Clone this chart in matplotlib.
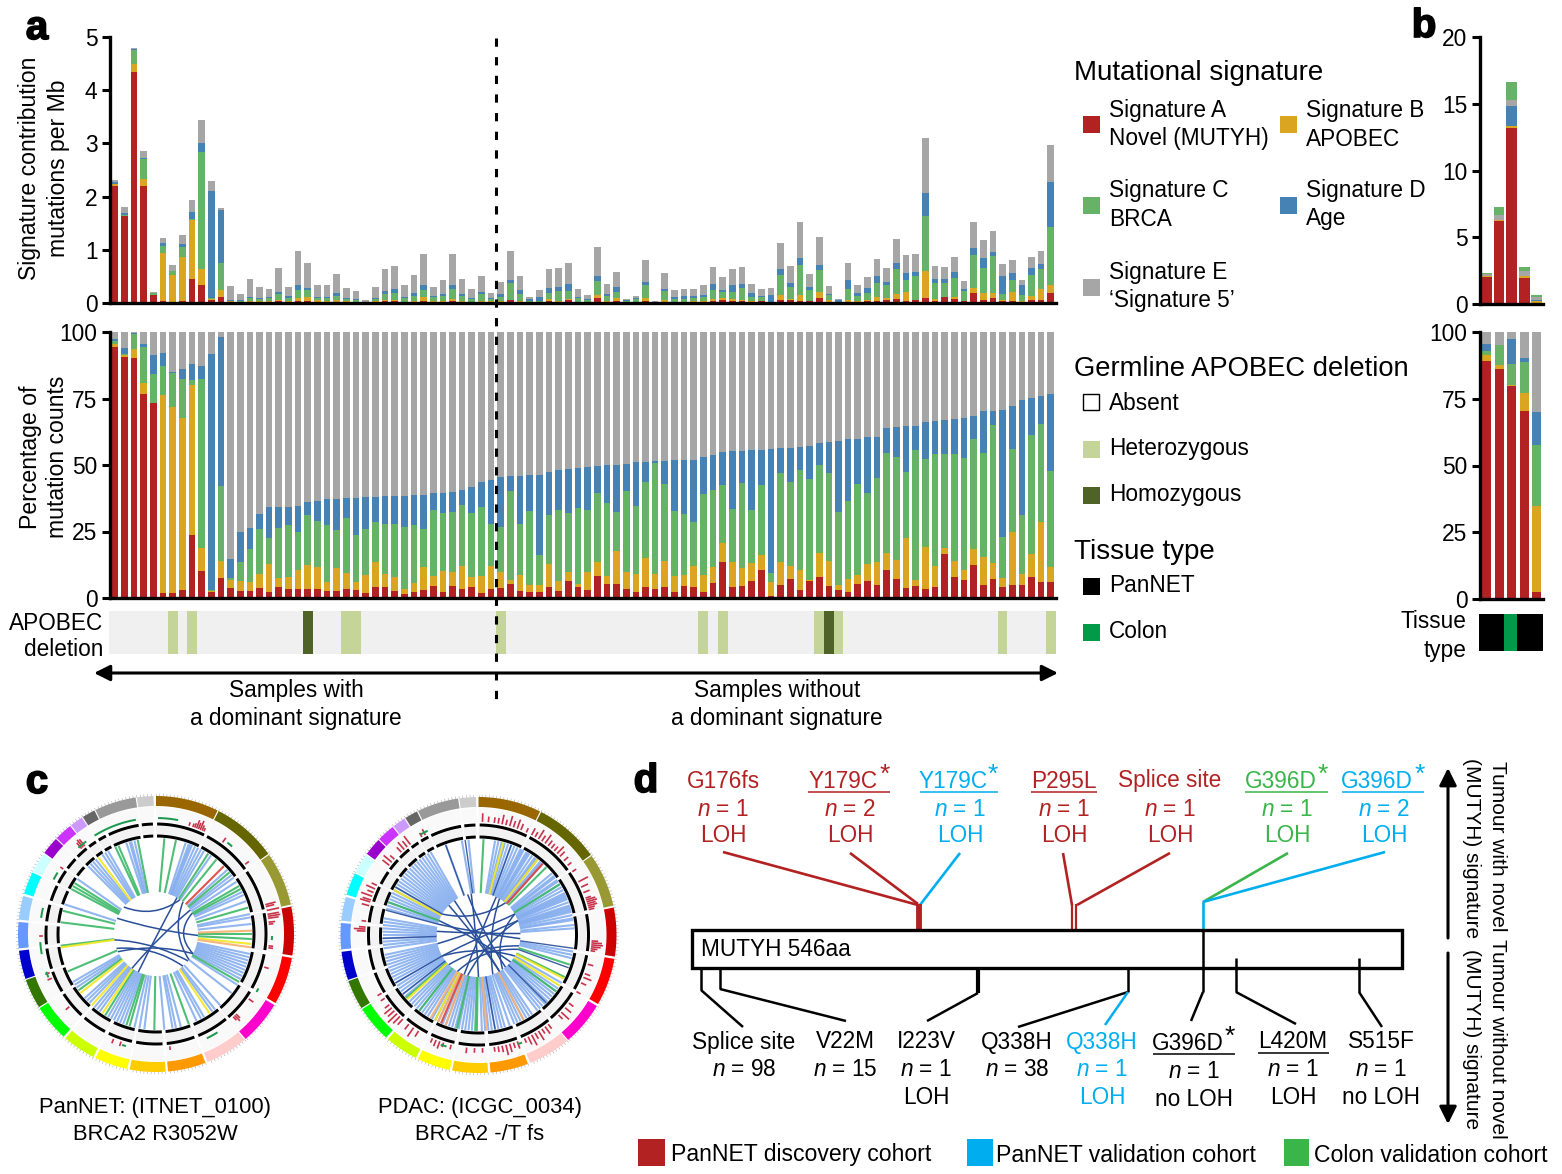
import matplotlib
matplotlib.use("Agg")
import matplotlib.pyplot as plt
import matplotlib.patheffects as pe
import numpy as np
from matplotlib.patches import Rectangle, Polygon, PathPatch
from matplotlib.path import Path

plt.rcParams['font.family'] = ['Liberation Sans', 'DejaVu Sans']
plt.rcParams['mathtext.fontset'] = 'custom'
plt.rcParams['mathtext.rm'] = 'Liberation Sans'
plt.rcParams['mathtext.it'] = 'Liberation Sans:italic'

W, H = 1562, 1174

RED = '#b22222'
ORANGE = '#daa520'
GREEN = '#66b266'
BLUE = '#4682b4'
GREY = '#a6a6a6'

# panel a, top: mutations per Mb for signatures A-E
sig_a = [2.19,1.63,4.34,2.20,.145,.03,.01,.03,.46,.345,
         .05,.12,.02,.01,.02,.01,.01,.03,.02,.03,
         .03,.02,.01,.02,.01,.01,.005,.01,.03,.03,
         .01,.02,.03,.01,.01,.04,.02,.01,.01,.01,
         .01,.05,.01,.01,.01,.03,.02,.05,.01,.01,
         .09,.02,.03,.005,.01,.03,.005,.02,.01,.01,
         .01,.01,.03,.06,.03,.03,.02,.03,.005,.05,
         .05,.04,.03,.10,.01,.005,.02,.02,.03,.03,
         .06,.08,.03,.05,.10,.03,.11,.07,.03,.18,
         .05,.09,.03,.03,.01,.06,.05,.18]
sig_b = [.04,.01,.155,.125,.01,.91,.51,.84,1.10,.30,
         .025,.13,.01,.01,.02,.02,.03,.02,.02,.07,
         .08,.03,.02,.04,.02,.01,.005,.03,.02,.02,
         .01,.01,.08,.02,.03,.03,.02,.01,.03,.02,
         .03,.01,.03,.0,.01,.05,.02,.02,.0,.01,
         .055,.01,.07,.005,.01,.06,.005,.04,.01,.01,
         .02,.02,.04,.04,.05,.03,.02,.0,.005,.10,
         .03,.11,.0,.11,.04,.005,.03,.01,.03,.08,
         .04,.09,.18,.01,.50,.05,.01,.05,.01,.10,
         .13,.09,.02,.17,.02,.08,.22,.16]
sig_c = [.01,.01,.26,.38,.03,.14,.09,.19,.025,2.2,
         .01,.50,.005,.01,.05,.05,.05,.12,.06,.14,
         .13,.05,.06,.07,.05,.04,.01,.03,.12,.14,
         .07,.11,.13,.08,.10,.20,.10,.05,.12,.04,
         .07,.32,.12,.03,.02,.11,.18,.16,.08,.04,
         .27,.10,.10,.03,.05,.24,.01,.17,.06,.06,
         .06,.09,.18,.10,.13,.22,.07,.08,.005,.38,
         .22,.57,.22,.41,.10,.01,.21,.11,.13,.27,
         .24,.47,.22,.45,1.03,.30,.25,.35,.19,.63,
         .47,.70,.11,.24,.12,.39,.37,1.09]
sig_d = [.03,.04,.02,.025,.01,.055,.0,.055,.12,.16,
         2.02,1.0,.02,.02,.03,.01,.02,.04,.03,.09,
         .04,.02,.02,.05,.02,.02,.0,.03,.06,.07,
         .03,.04,.10,.02,.03,.06,.02,.03,.04,.02,
         .06,.05,.09,.03,.07,.10,.09,.12,.02,.02,
         .10,.04,.10,.01,.02,.06,.0,.04,.04,.05,
         .04,.03,.10,.05,.13,.08,.08,.02,.135,.10,
         .08,.13,.06,.09,.02,.03,.17,.05,.10,.12,
         .06,.12,.14,.08,.44,.08,.08,.12,.04,.13,
         .19,.07,.35,.12,.18,.12,.10,.85]
sig_e = [.05,.11,.02,.13,.02,.095,.11,.17,.24,.43,
         .19,.03,.27,.12,.34,.21,.16,.45,.17,.65,
         .48,.22,.23,.36,.18,.14,.04,.20,.41,.44,
         .21,.34,.58,.18,.26,.59,.30,.16,.30,.10,
         .23,.55,.25,.05,.13,.35,.34,.41,.16,.07,
         .54,.19,.29,.03,.05,.42,.02,.29,.13,.14,
         .14,.18,.33,.23,.29,.31,.16,.13,.14,.49,
         .31,.67,.24,.53,.15,.03,.32,.14,.19,.32,
         .25,.44,.34,.34,1.04,.24,.22,.28,.15,.48,
         .35,.41,.23,.25,.11,.22,.24,.69]

# panel a, bottom: cumulative percentages (top of each stacked segment)
pct_a = [94.2,90.7,90.4,76.7,73.2,2,1.8,2.9,23.7,10.2,2.3,7.4,3.6,2.6,2.6,3.8,2.3,4,3.3,3.3,
         3.5,3.3,2.6,2.6,3.3,2.9,1.8,4,4,2.6,1.4,2.4,2.9,4.6,2.3,4.6,3.3,4,1.8,3.3,
         3.6,5.1,2.6,2.3,2.1,4.3,2.5,6.3,4.3,2.9,8.1,5.1,5.3,3.3,2.1,4,3.3,4,2.1,4.4,
         4,2.1,5.5,13.4,4,4.5,6.3,10.4,.6,5,7,2.9,6.4,7.8,4.4,2.9,2.1,5.3,6.5,4.9,
         10.4,7,3.8,4.5,3.3,4,16.4,8,6.9,12.3,4.8,7,4,5,5,7.8,5.9,5.9]
pct_b = [95.6,91.5,93.7,81,73.2,76.2,71.9,67.5,80.2,18.9,2.6,14,6.6,6.5,6,8.9,12.7,7.4,8,10.5,
         12.5,11.5,5.9,11.3,9.3,6.1,8.5,13.5,8.9,7.8,3.5,5.8,11.7,8.3,10.3,9.6,11.9,7.8,8.4,11.9,
         9.8,6.9,8.5,4.8,5,12.7,6.3,9.8,5.1,9.8,13.5,8.1,17.8,9.6,8.9,14.9,8.9,13.8,8.3,8.8,
         12,8.8,11.5,20.8,13.4,11.3,13.2,16.3,5.9,13.4,11.9,10.4,6.9,17,14,5,7.3,8.5,12.8,13.5,
         16.8,14.2,22.4,6.6,19.3,12.2,18.8,13.8,10.5,18.5,15.3,13.2,7.4,24.8,9.1,16.7,28.6,11.5]
pct_c = [96.5,91.7,99.1,94.5,84.2,87.2,84.5,82.2,81.8,82.5,3.1,42.2,7.6,13.5,18.5,26.1,22.6,26.2,27.6,24.9,
         31.3,29.1,27.6,25.7,29.9,23.8,26.1,28.7,27.9,27.9,26.8,27.6,26.1,33.1,32.1,32.5,34.8,31.8,34.3,27.8,
         26.8,40.1,27.9,32.8,16,31.3,33.2,31.8,33.8,33,39.5,35.6,32.2,40.1,34.7,43.5,50.9,43,32.8,31.7,
         28.7,39,40.5,42.4,33.3,43.1,33.2,42.6,9.3,47.1,43.5,48,44.9,50.1,46.9,32.5,36.6,42.7,39.3,45.2,
         54.6,53.1,47.5,55.8,52.4,54.3,54.1,54.3,52.6,59.6,54.6,64.9,23.1,55.9,31.3,61.2,65.5,47.9]
pct_d = [97.5,94.1,99.7,95.5,91.5,92.2,84.8,86.2,88.1,87.1,91.9,98,14.8,24.7,26.2,31.7,34.1,34.1,34.1,34.5,
         36,36.3,37.1,37.1,37.5,37.5,37.8,37.8,38.2,38.2,38.2,38.6,38.6,39.3,39.3,39.7,40.5,41.9,43.6,44.2,
         45.4,45.7,45.7,46.1,46.1,47.2,48,48.4,48.7,49.1,49.5,49.9,49.9,50.3,51,51,51.4,51.5,51.9,51.9,
         51.9,52.9,53.9,54.8,55.1,55.1,55.5,55.5,55.9,56.3,56.3,56.9,57.1,58.1,58.5,59,59.6,59.8,60.4,60.5,
         64,64.4,64.5,64.5,66.3,66.4,67,67.4,67.5,68.3,70.2,70.2,70.6,72.1,74.6,75.1,76.1,76.6]

het_samples = [6, 8, 24, 25, 40, 61, 63, 73, 75, 92, 97]
hom_samples = [20, 74]

# panel b
b_a = [2.05, 6.25, 13.2, 1.93, .03]
b_b = [.02, .03, .10, .16, .20]
b_d = [.05, 0, 1.55, .02, .10]
b_e = [.10, .40, .44, .35, .19]
b_c = [.08, .57, 1.36, .32, .13]
bp_a = [89.1, 86.3, 79.7, 70.5, 2.7]
bp_b = [91.3, 87.7, 80.1, 77.1, 34.9]
bp_c = [92.7, 95.3, 87.9, 88.8, 57.7]
bp_d = [95.6, 95.3, 97.3, 90.4, 70.2]
tissue = ['PanNET', 'PanNET', 'Colon', 'PanNET', 'PanNET']

# panel c: chromosome sectors, clockwise degrees from top
chrom_start = [0, 27, 55, 78.5, 100, 121, 140, 159, 176, 192, 207, 222, 238, 251, 264, 276, 287, 297, 306, 314, 322, 328, 334, 352]
chrom_end = [26.5, 54.5, 77.7, 99, 120, 139.5, 158, 175, 191, 206, 221, 237.5, 250.5, 263, 275, 286, 296.5, 305.5, 313.5, 321.5, 327.5, 333.5, 351.5, 359]
chrom_col = ['#996600', '#666600', '#999933', '#cc0000', '#ff0000', '#ff00cc', '#ffcccc', '#ff9900',
             '#ffcc00', '#ffff00', '#ccff00', '#00ff00', '#337700', '#0000cc', '#6699ff', '#99ccff',
             '#00ffff', '#ccffff', '#9900cc', '#cc33ff', '#cc99ff', '#666666', '#999999', '#cccccc']

c1_blue = [345, 347, 18, 20, 22, 21, 24, 26, 28, 30, 35, 48, 52, 54, 57, 64, 66, 70, 78, 80, 84, 102, 104, 106, 108,
           110, 112, 114, 116, 118, 122, 128, 138, 142, 144, 150, 152, 155, 165, 168, 170, 175, 187, 190, 193, 200,
           202, 204, 206, 208, 210, 216, 218, 220, 224, 226, 228, 236, 238, 240, 288, 305, 315, 317, 319, 321, 326, 328, 330, 342, 344]
c1_green = [349, 5, 12, 33, 39, 50, 60, 62, 74, 90, 93, 120, 160, 181, 196, 198, 212, 234, 247, 263, 277, 284, 298, 300, 302, 335, 337]
c1_yellow = [146, 214, 222, 232, 96, 262, 323]
c1_orange = [88, 98]
c1_red = [45]
c1_curves = [(310, 35), (292, 92), (250, 140), (245, 118), (205, 30), (215, 55), (130, 262), (60, 118), (128, 40)]
c1_bump_ang = [17, 19, 20, 21, 22, 23, 24, 25, 36, 52, 75, 76, 78, 80, 81, 82, 84, 85, 96, 97, 107, 125, 135, 136, 137, 173, 198, 202, 230, 247, 250, 269, 305, 319, 320, 321]
c1_bump_h = [2, 2, 3, 7, 5, 8, 4, 2, 4, 3, 9, 7, 11, 10, 11, 9, 5, 3, 3, 3, 3, 4, 4, 6, 3, 2, 3, 3, 3, 3, 3, 2, 2, 6, 8, 7]
c1_green_arcs = [(1, 11), (328, 350), (318, 323), (298, 302), (278, 283), (260, 266), (248, 251), (148, 154), (195, 197), (118, 120), (91, 93), (38, 41)]

c2_blue = [10, 12, 14, 16, 18, 20, 22, 24, 26, 27, 28, 30, 31, 32, 34, 36, 37, 38, 40, 41, 42, 50, 52, 53, 55, 56, 58, 60, 62,
           64, 65, 66, 67, 68, 70, 72, 73, 74, 75, 76, 78, 80, 81, 84, 86, 100, 102, 104, 120, 124, 126, 128, 130, 132,
           134, 136, 138, 140, 142, 146, 148, 150, 152, 154, 156, 158, 161, 164, 166, 168, 170, 172, 174, 176, 178,
           184, 186, 188, 190, 192, 194, 196, 198, 200, 202, 205, 207, 209, 212, 214, 216, 218, 220, 222, 224, 226,
           230, 232, 234, 236, 238, 240, 242, 244, 246, 248, 250, 252, 254, 256, 258, 262, 264, 266, 268, 270, 272, 274,
           276, 278, 280, 286, 288, 290, 292, 294, 296, 298, 300, 302, 304, 306, 308, 310, 312, 314, 316, 318, 320, 322,
           324, 326, 328, 330, 340, 350, 354]
c2_green = [3, 45, 58, 108, 116, 126, 181, 182, 193, 218, 229, 290]
c2_yellow = [15, 38, 117, 122, 207, 298, 228]
c2_orange = [175, 152, 200, 210, 205]
c2_red = [42, 203]
c2_dark = [98, 110, 135, 170, 232, 240, 268, 285, 300, 340, 352, 20]
c2_curves = [(300, 40), (285, 95), (275, 88), (258, 60), (240, 70), (225, 105), (200, 25), (180, 350), (150, 325), (160, 30),
             (145, 60), (130, 290), (120, 240), (210, 110), (315, 150), (345, 140), (70, 195)]
c2_bump_ang = [2, 5, 8, 10, 12, 14, 16, 18, 20, 22, 25, 28, 30, 32, 34, 36, 38, 40, 42, 44, 46, 49, 52, 56, 62, 65, 68, 71, 72, 73, 74, 75, 76, 77,
               93, 94, 95, 96, 97, 98, 105, 110, 112, 115, 120, 127, 130, 133, 135, 142, 144, 146, 148, 150, 152, 154, 156, 160, 162, 164,
               166, 168, 170, 172, 178, 182, 186, 194, 198, 200, 202, 204, 212, 215, 218, 222, 224, 226, 228, 230, 232, 236, 239, 272, 273, 274,
               277, 285, 287, 288, 290, 292, 294, 296, 308, 310, 312, 317, 319, 321, 323, 330, 332]
c2_bump_h = [7, 4, 4, 4, 8, 4, 9, 5, 8, 5, 3, 6, 4, 9, 5, 9, 5, 4, 4, 8, 5, 4, 3, 3, 9, 6, 5, 4, 8, 9, 7, 8, 5, 4,
             5, 9, 10, 8, 5, 3, 4, 4, 7, 4, 3, 4, 6, 9, 4, 4, 7, 4, 9, 5, 10, 7, 3, 6, 4, 7, 9, 5, 4, 3, 3, 3, 4, 3, 3, 6, 5, 3,
             5, 9, 5, 6, 8, 11, 7, 8, 4, 3, 3, 7, 10, 5, 3, 6, 9, 7, 10, 5, 8, 4, 7, 9, 4, 5, 8, 6, 9, 3, 5]
c2_green_arcs = [(196, 199), (158, 160), (330, 334)]


def px_axes(left, top, right, bottom):
    return fig.add_axes([left / W, 1 - bottom / H, (right - left) / W, (bottom - top) / H])


def style_axis(ax, ticks):
    for s in ['top', 'right']:
        ax.spines[s].set_visible(False)
    ax.spines['left'].set_linewidth(2.4)
    ax.spines['bottom'].set_linewidth(2.4)
    ax.set_xticks([])
    ax.set_yticks(ticks)
    ax.tick_params(axis='y', length=6, width=2.2, labelsize=16.4, pad=3)


fig = plt.figure(figsize=(W / 100, H / 100), dpi=100, facecolor='white')
idx = np.arange(len(sig_a))
a_xlim = (-0.49, 97.54)

# a top
ax = px_axes(110, 37, 1056, 303)
bottom = np.zeros(len(idx))
for vals, col in [(sig_a, RED), (sig_b, ORANGE), (sig_c, GREEN), (sig_d, BLUE), (sig_e, GREY)]:
    ax.bar(idx, vals, bottom=bottom, width=0.69, color=col, linewidth=0)
    bottom = bottom + np.array(vals)
ax.set_xlim(a_xlim)
ax.set_ylim(0, 5)
style_axis(ax, [0, 1, 2, 3, 4, 5])

# a bottom
ax = px_axes(110, 332, 1056, 598)
prev = np.zeros(len(idx))
for tops, col in [(pct_a, RED), (pct_b, ORANGE), (pct_c, GREEN), (pct_d, BLUE), ([100] * len(idx), GREY)]:
    tops = np.array(tops, dtype=float)
    ax.bar(idx, tops - prev, bottom=prev, width=0.69, color=col, linewidth=0)
    prev = tops
ax.set_xlim(a_xlim)
ax.set_ylim(0, 100)
style_axis(ax, [0, 25, 50, 75, 100])

# APOBEC strip
ax = px_axes(109, 611, 1056, 654)
ax.set_xlim(-0.59, 97.54)
ax.set_ylim(0, 1)
ax.axis('off')
ax.add_patch(Rectangle((-0.59, 0), 98.13, 1, color='#f0f0f0', lw=0))
ax.bar(het_samples, [1] * len(het_samples), width=1.02, bottom=0, color='#c5d59a', linewidth=0)
ax.bar(hom_samples, [1] * len(hom_samples), width=1.02, bottom=0, color='#4f6228', linewidth=0)

# b top
bx = np.arange(5)
ax = px_axes(1480, 37, 1543, 304)
bottom = np.zeros(5)
for vals, col in [(b_a, RED), (b_b, ORANGE), (b_d, BLUE), (b_e, GREY), (b_c, GREEN)]:
    ax.bar(bx, vals, bottom=bottom, width=0.85, color=col, linewidth=0)
    bottom = bottom + np.array(vals)
ax.set_xlim(-0.53, 4.5)
ax.set_ylim(0, 20)
style_axis(ax, [0, 5, 10, 15, 20])

# b bottom
ax = px_axes(1480, 332, 1543, 599)
prev = np.zeros(5)
for tops, col in [(bp_a, RED), (bp_b, ORANGE), (bp_c, GREEN), (bp_d, BLUE), ([100] * 5, GREY)]:
    tops = np.array(tops, dtype=float)
    ax.bar(bx, tops - prev, bottom=prev, width=0.7, color=col, linewidth=0)
    prev = tops
ax.set_xlim(-0.53, 4.5)
ax.set_ylim(0, 100)
style_axis(ax, [0, 25, 50, 75, 100])

# tissue strip
ax = px_axes(1479, 614, 1543, 651)
ax.set_xlim(-0.5, 4.5)
ax.set_ylim(0, 1)
ax.axis('off')
ax.bar(bx, [1] * 5, width=1.02, color=['#009a49' if t == 'Colon' else 'black' for t in tissue], linewidth=0)

# overlay in pixel coordinates for text, legends, panels c and d
ov = fig.add_axes([0, 0, 1, 1])
ov.set_xlim(0, W)
ov.set_ylim(H, 0)
ov.axis('off')
ov.patch.set_alpha(0)


def txt(x, y, s, size=16.3, ha='left', color='black', **kw):
    # text sits about 2 px lower in the target than va=center gives
    dy = 0 if 'rotation' in kw else 2
    return ov.text(x, y + dy, s, fontsize=size, ha=ha, va='center', color=color, **kw)


def seg(x0, y0, x1, y1, color='black', lw=1.8, **kw):
    ov.plot([x0, x1], [y0, y1], color=color, lw=lw, solid_capstyle='butt', **kw)


def square(x, y, col, size=17, edge=None):
    ov.add_patch(Rectangle((x - size / 2, y - size / 2), size, size, facecolor=col,
                           edgecolor=edge if edge else col, lw=1 if edge else 0))


# dashed divider and arrow of panel a
ov.plot([496, 496], [38, 708], color='black', lw=2.2, dashes=(2.7, 3.4))
ov.annotate('', xy=(94, 673), xytext=(1058, 673), arrowprops=dict(arrowstyle='<|-|>', color='black', lw=2.2, mutation_scale=24, shrinkA=0, shrinkB=0))

for x, y, s in [(37, 26, 'a'), (1424, 24, 'b'), (37, 780, 'c'), (646, 779, 'd')]:
    t = txt(x, y, s, size=29, ha='center', fontweight='bold')
    t.set_path_effects([pe.withStroke(linewidth=1.2, foreground='black')])

txt(30, 168, 'Signature contribution', size=16.6, ha='center', rotation=90)
txt(58, 168, 'mutations per Mb', size=16.6, ha='center', rotation=90)
txt(30, 457, 'Percentage of', size=16.6, ha='center', rotation=90)
txt(58, 457, 'mutation counts', size=16.6, ha='center', rotation=90)
txt(103, 622, 'APOBEC', ha='right')
txt(103, 648, 'deletion', ha='right')
txt(1466, 620, 'Tissue', ha='right')
txt(1466, 649, 'type', ha='right')
txt(296, 689, 'Samples with', ha='center')
txt(296, 717, 'a dominant signature', ha='center')
txt(777, 689, 'Samples without', ha='center')
txt(777, 717, 'a dominant signature', ha='center')

# legends
txt(1074, 71, 'Mutational signature', size=20)
for x, y, text_y, col, l1, l2 in [(1091, 124, 124, RED, 'Signature A', 'Novel (MUTYH)'),
                                  (1288, 124, 124, ORANGE, 'Signature B', 'APOBEC'),
                                  (1091, 205, 204, GREEN, 'Signature C', 'BRCA'),
                                  (1288, 205, 204, BLUE, 'Signature D', 'Age'),
                                  (1091, 287, 285, GREY, 'Signature E', '‘Signature 5’')]:
    square(x, y, col)
    txt(x + 18, text_y - 15, l1)
    txt(x + 18, text_y + 13, l2)
txt(1074, 367, 'Germline APOBEC deletion', size=19.7)
square(1091, 402, 'white', size=16, edge='black')
txt(1109, 401, 'Absent')
square(1091, 449, '#c5d59a')
txt(1109, 446, 'Heterozygous')
square(1091, 495, '#4f6228')
txt(1109, 492, 'Homozygous')
txt(1074, 550, 'Tissue type', size=20)
square(1091, 586, 'black')
txt(1109, 583, 'PanNET')
square(1091, 632, '#009a49')
txt(1109, 629, 'Colon')


# circos helpers
def pt(cx, cy, r, deg):
    rad = np.radians(deg)
    return cx + r * np.sin(rad), cy - r * np.cos(rad)


def arc_poly(cx, cy, r0, r1, a0, a1, **kw):
    ang = np.linspace(a0, a1, 30)
    outer = [pt(cx, cy, r1, a) for a in ang]
    inner = [pt(cx, cy, r0, a) for a in ang[::-1]]
    ov.add_patch(Polygon(outer + inner, closed=True, linewidth=0, **kw))


def radial(cx, cy, angles, col, lw=1.5, r0=42, r1=96, z=3):
    for a in angles:
        x0, y0 = pt(cx, cy, r1, a)
        x1, y1 = pt(cx, cy, r0, a)
        ov.plot([x0, x1], [y0, y1], color=col, lw=lw, alpha=0.9, zorder=z, solid_capstyle='butt')


def circos(cx, cy, blue, green, yellow, orange, red, curves, bump_ang, bump_h, green_arcs, dark=()):
    for a0, a1, col in zip(chrom_start, chrom_end, chrom_col):
        arc_poly(cx, cy, 128, 138, a0, a1, facecolor=col, zorder=2)
        arc_poly(cx, cy, 113, 127, a0, a1, facecolor='#f9f9f9', zorder=1)
        arc_poly(cx, cy, 108.5, 111.5, a0 + 0.6, a1 - 0.6, facecolor='black', zorder=2)
        arc_poly(cx, cy, 96.5, 99.5, a0 + 0.6, a1 - 0.6, facecolor='black', zorder=2)
        arc_poly(cx, cy, 100, 108, a0, a1, facecolor='#f2f2f2', zorder=1)
        for a in np.arange(a0, a1, 1.5):
            x0, y0 = pt(cx, cy, 138, a)
            x1, y1 = pt(cx, cy, 140, a)
            ov.plot([x0, x1], [y0, y1], color='#aaaaaa', lw=0.4, zorder=1)
    radial(cx, cy, blue, '#86aeee')
    radial(cx, cy, green, '#3cb868')
    radial(cx, cy, yellow, '#f2e620')
    radial(cx, cy, orange, '#f5b070')
    radial(cx, cy, red, '#e0403a')
    radial(cx, cy, dark, '#2a4f9a', lw=1.0)
    for a0, a1 in curves:
        p0 = pt(cx, cy, 42, a0)
        p1 = pt(cx, cy, 42, a1)
        mid = ((p0[0] + p1[0] + 2 * cx) / 4, (p0[1] + p1[1] + 2 * cy) / 4)
        path = Path([p0, mid, p1], [Path.MOVETO, Path.CURVE3, Path.CURVE3])
        ov.add_patch(PathPatch(path, fill=False, edgecolor='#2a4f9a', lw=1.1, zorder=4))
    for a, h in zip(bump_ang, bump_h):
        x0, y0 = pt(cx, cy, 114, a)
        x1, y1 = pt(cx, cy, 114 + h, a)
        ov.plot([x0, x1], [y0, y1], color='#c8324a', lw=1.2, zorder=3)
    for a0, a1 in green_arcs:
        arc_poly(cx, cy, 115, 117, a0, a1, facecolor='#1e9a50', zorder=3)


circos(156, 934, c1_blue, c1_green, c1_yellow, c1_orange, c1_red, c1_curves, c1_bump_ang, c1_bump_h, c1_green_arcs)
circos(478.5, 935, c2_blue, c2_green, c2_yellow, c2_orange, c2_red, c2_curves, c2_bump_ang, c2_bump_h, c2_green_arcs, dark=c2_dark)

txt(155, 1105, 'PanNET: (ITNET_0100)', size=15.8, ha='center')
txt(155, 1133, 'BRCA2 R3052W', size=15.8, ha='center')
txt(480, 1105, 'PDAC: (ICGC_0034)', size=15.8, ha='center')
txt(480, 1133, 'BRCA2 -/T fs', size=15.8, ha='center')

# panel d
D_RED = '#b22222'
D_BLUE = '#00aeef'
D_GREEN = '#39b54a'
ov.add_patch(Rectangle((691.5, 930), 710, 38, fill=False, edgecolor='black', lw=2.4, zorder=5))
txt(701, 948, 'MUTYH 546aa')

seg(723, 852, 918, 905, D_RED, 1.9)
seg(850, 853, 918, 904, D_RED, 1.9)
seg(960, 853, 920, 905, D_BLUE, 1.9)
seg(918.5, 904, 918.5, 929, D_RED, 4.2)
seg(1063, 853, 1072, 905, D_RED, 1.9)
seg(1170, 853, 1077, 905, D_RED, 1.9)
seg(1072, 904, 1072, 929, D_RED, 1.6)
seg(1076, 904, 1076, 929, D_RED, 1.6)
seg(1288, 853, 1203, 902, D_GREEN, 1.9)
seg(1385, 852, 1203, 902, D_BLUE, 1.9)
seg(1203, 901, 1203, 930, D_BLUE, 1.9)

seg(701, 968, 701, 990)
seg(701, 990, 743, 1027)
seg(720, 968, 720, 989)
seg(720, 989, 846, 1021)
seg(978, 968, 978, 993, lw=3)
seg(978, 993, 927, 1021)
seg(1128, 968, 1128, 992)
seg(1128, 992, 1018, 1027)
seg(1128, 992, 1105, 1025, D_BLUE)
seg(1203, 930, 1203, 992)
seg(1203, 992, 1191, 1021)
seg(1236, 958, 1236, 992)
seg(1236, 992, 1296, 1024)
seg(1359, 958, 1359, 992)
seg(1359, 992, 1382, 1027)

for x, name_x, name, n, col, ul in [(723, 723, 'G176fs', 1, D_RED, None),
                                    (850, 843, 'Y179C', 2, D_RED, (808, 890)),
                                    (960, 953, 'Y179C', 1, D_BLUE, (920, 998)),
                                    (1064, 1064, 'P295L', 1, D_RED, (1031, 1097)),
                                    (1170, 1170, 'Splice site', 1, D_RED, None),
                                    (1287, 1281, 'G396D', 1, D_GREEN, (1245, 1328)),
                                    (1384, 1377, 'G396D', 2, D_BLUE, (1342, 1424))]:
    txt(name_x, 779, name, ha='center', color=col)
    txt(x, 807, '$\\mathit{n}$ = %d' % n, ha='center', color=col)
    txt(x, 834, 'LOH', ha='center', color=col)
    if ul:
        seg(ul[0], 792, ul[1], 792, col, 1.1)
for x, col in [(885, D_RED), (993, D_BLUE), (1323, D_GREEN), (1420, D_BLUE)]:
    txt(x, 773, '*', size=19, ha='center', color=col)

for x, name, n, loh, col in [(744, 'Splice site', 98, '', 'black'), (845, 'V22M', 15, '', 'black'),
                             (926, 'I223V', 1, 'LOH', 'black'), (1017, 'Q338H', 38, '', 'black'),
                             (1102, 'Q338H', 1, 'LOH', D_BLUE), (1293, 'L420M', 1, 'LOH', 'black'),
                             (1381, 'S515F', 1, 'no LOH', 'black')]:
    txt(x, 1040, name, ha='center', color=col)
    txt(x, 1068, '$\\mathit{n}$ = %d' % n, ha='center', color=col)
    if loh:
        txt(x, 1096, loh, ha='center', color=col)
seg(1258, 1053, 1329, 1053, 'black', 1.1)
txt(1188, 1042, 'G396D', ha='center')
txt(1230, 1035, '*', size=19, ha='center')
seg(1153, 1054, 1235, 1054, 'black', 1.1)
txt(1194, 1070, '$\\mathit{n}$ = 1', ha='center')
txt(1194, 1098, 'no LOH', ha='center')

ov.annotate('', xy=(1448, 768), xytext=(1448, 938), arrowprops=dict(arrowstyle='-|>', color='black', lw=2.2, mutation_scale=26, shrinkA=0, shrinkB=0))
ov.annotate('', xy=(1448, 1124), xytext=(1448, 953), arrowprops=dict(arrowstyle='-|>', color='black', lw=2.2, mutation_scale=26, shrinkA=0, shrinkB=0))
txt(1497, 846, 'Tumour with novel', size=15, ha='center', rotation=-90)
txt(1472, 848, '(MUTYH) signature', size=15, ha='center', rotation=-90)
txt(1497, 1039, 'Tumour without novel', size=15, ha='center', rotation=-90)
txt(1472, 1039, '(MUTYH) signature', size=15, ha='center', rotation=-90)

for x0, x1, xt, col, s in [(638, 665, 671, D_RED, 'PanNET discovery cohort'),
                           (967, 993, 996, D_BLUE, 'PanNET validation cohort'),
                           (1284, 1309, 1314, D_GREEN, 'Colon validation cohort')]:
    ov.add_patch(Rectangle((x0, 1139), x1 - x0, 27, color=col, lw=0))
    txt(xt, 1153, s, size=16.55)

fig.savefig('out.png', dpi=100)
